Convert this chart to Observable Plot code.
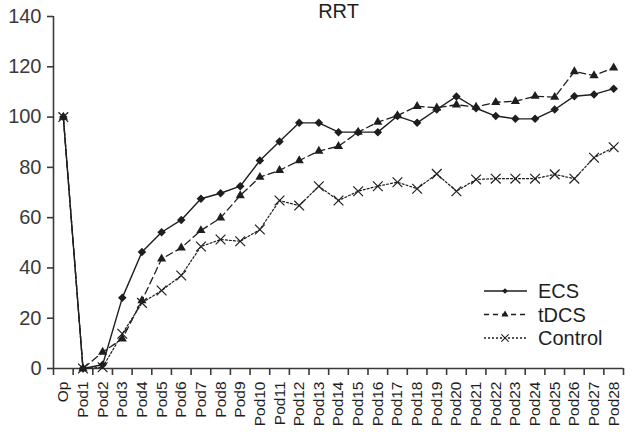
<!DOCTYPE html>
<html>
<head>
<meta charset="utf-8">
<script src="https://cdn.jsdelivr.net/npm/d3@7"></script>
<script src="https://cdn.jsdelivr.net/npm/@observablehq/plot@0.6"></script>
<style>
  body { margin: 0; background: #fff; }
  #wrap { position: relative; width: 632px; height: 434px; font-family: "Liberation Sans", Arial, sans-serif; }
  #legend { position: absolute; left: 480px; top: 278px; }
</style>
</head>
<body>
<div id="wrap"></div>
<script>
const categories = ["Op","Pod1","Pod2","Pod3","Pod4","Pod5","Pod6","Pod7","Pod8","Pod9","Pod10",
  "Pod11","Pod12","Pod13","Pod14","Pod15","Pod16","Pod17","Pod18","Pod19","Pod20",
  "Pod21","Pod22","Pod23","Pod24","Pod25","Pod26","Pod27","Pod28"];
const ecs = [100, 0, 1.5, 28.1, 46.3, 54.2, 59.1, 67.5, 69.7, 72.5, 82.7,
  90.3, 97.7, 97.7, 94.0, 94.0, 94.0, 100.4, 97.7, 103.0, 108.2,
  103.5, 100.4, 99.3, 99.3, 103.0, 108.3, 109.0, 111.3];
const tdcs = [100, 0, 6.5, 11.8, 27.0, 43.6, 48.0, 54.9, 59.9, 68.8, 76.1,
  78.8, 82.7, 86.5, 88.4, 94.0, 98.0, 100.6, 104.3, 103.7, 104.9,
  104.0, 105.9, 106.3, 108.3, 107.9, 118.1, 116.5, 119.6];
const control = [100, 0, 0.5, 13.8, 26.1, 31.0, 37.0, 48.5, 51.3, 50.6, 55.3,
  66.8, 64.8, 72.5, 66.8, 70.5, 72.5, 74.1, 71.5, 77.4, 70.5,
  75.2, 75.5, 75.5, 75.5, 77.2, 75.5, 83.8, 88.0];
const yTicks = [0, 20, 40, 60, 80, 100, 120, 140];
const seriesNames = ["ECS", "tDCS", "Control"];
const title = "RRT";

const idx = d3.range(categories.length);
const boundaries = d3.range(categories.length + 1).map(i => i - 0.5);
const ink = "#1e1e1e";
const axisColor = "#3a3a3a";

const chart = Plot.plot({
  width: 632,
  height: 434,
  marginTop: 16,
  marginRight: 9,
  marginBottom: 66,
  marginLeft: 53,
  style: { fontFamily: "Liberation Sans, Arial, sans-serif", color: ink, background: "#fff" },
  x: { type: "linear", domain: [-0.5, categories.length - 0.5], axis: null },
  y: { domain: [0, 140], axis: null },
  marks: [
    Plot.ruleY([0], { stroke: axisColor, strokeWidth: 1.6 }),
    Plot.ruleX([-0.5], { y1: 0, y2: 140, stroke: axisColor, strokeWidth: 1.6 }),
    Plot.axisY({ ticks: yTicks, tickSize: 6, tickPadding: 6, fontSize: 20, color: axisColor, strokeWidth: 1.6, label: null }),
    Plot.axisX({ ticks: boundaries, tickFormat: () => "", tickSize: 7, color: axisColor, strokeWidth: 1.6, label: null }),
    Plot.axisX({ ticks: idx, tickFormat: i => categories[i], tickSize: 0, tickPadding: 13, tickRotate: -90, fontSize: 15.5, color: ink, label: null }),
    Plot.line(control, { x: (d, i) => i, y: d => d, stroke: ink, strokeWidth: 1.2, strokeDasharray: "2,2" }),
    Plot.line(tdcs, { x: (d, i) => i, y: d => d, stroke: ink, strokeWidth: 1.3, strokeDasharray: "7,4" }),
    Plot.line(ecs, { x: (d, i) => i, y: d => d, stroke: ink, strokeWidth: 1.4 }),
    Plot.dot(control, { x: (d, i) => i, y: d => d, symbol: "times", r: 4.5, stroke: ink, strokeWidth: 1.2 }),
    Plot.dot(tdcs, { x: (d, i) => i, y: d => d, symbol: "triangle", r: 3.4, fill: ink, stroke: "none" }),
    Plot.dot(ecs, { x: (d, i) => i, y: d => d, symbol: "square", rotate: 45, r: 3.4, fill: ink, stroke: "none" }),
    Plot.text([title], { frameAnchor: "top", lineAnchor: "bottom", dy: 1, fontSize: 20, fill: ink })
  ]
});
document.getElementById("wrap").appendChild(chart);

// Legend
const styles = [
  { dash: null, sym: d3.symbolSquare, rot: 45, size: 16, filled: true },
  { dash: "5,4", sym: d3.symbolTriangle, rot: 0, size: 22, filled: true },
  { dash: "2,2", sym: d3.symbolTimes, rot: 0, size: 36, filled: false }
];
const leg = d3.select("#wrap").append("svg").attr("id", "legend").attr("width", 150).attr("height", 74);
seriesNames.forEach((name, k) => {
  const y = 13 + k * 23.5;
  const s = styles[k];
  const g = leg.append("g");
  g.append("line").attr("x1", 4).attr("x2", 47).attr("y1", y).attr("y2", y)
    .attr("stroke", ink).attr("stroke-width", 1.3).attr("stroke-dasharray", s.dash);
  g.append("path").attr("d", d3.symbol(s.sym, s.size)())
    .attr("transform", `translate(25,${y}) rotate(${s.rot})`)
    .attr("fill", s.filled ? ink : "none").attr("stroke", s.filled ? "none" : ink).attr("stroke-width", 1.1);
  g.append("text").attr("x", 58).attr("y", y).attr("dy", "0.35em")
    .attr("font-size", 20).attr("fill", ink)
    .attr("font-family", "Liberation Sans, Arial, sans-serif").text(name);
});
</script>
</body>
</html>
